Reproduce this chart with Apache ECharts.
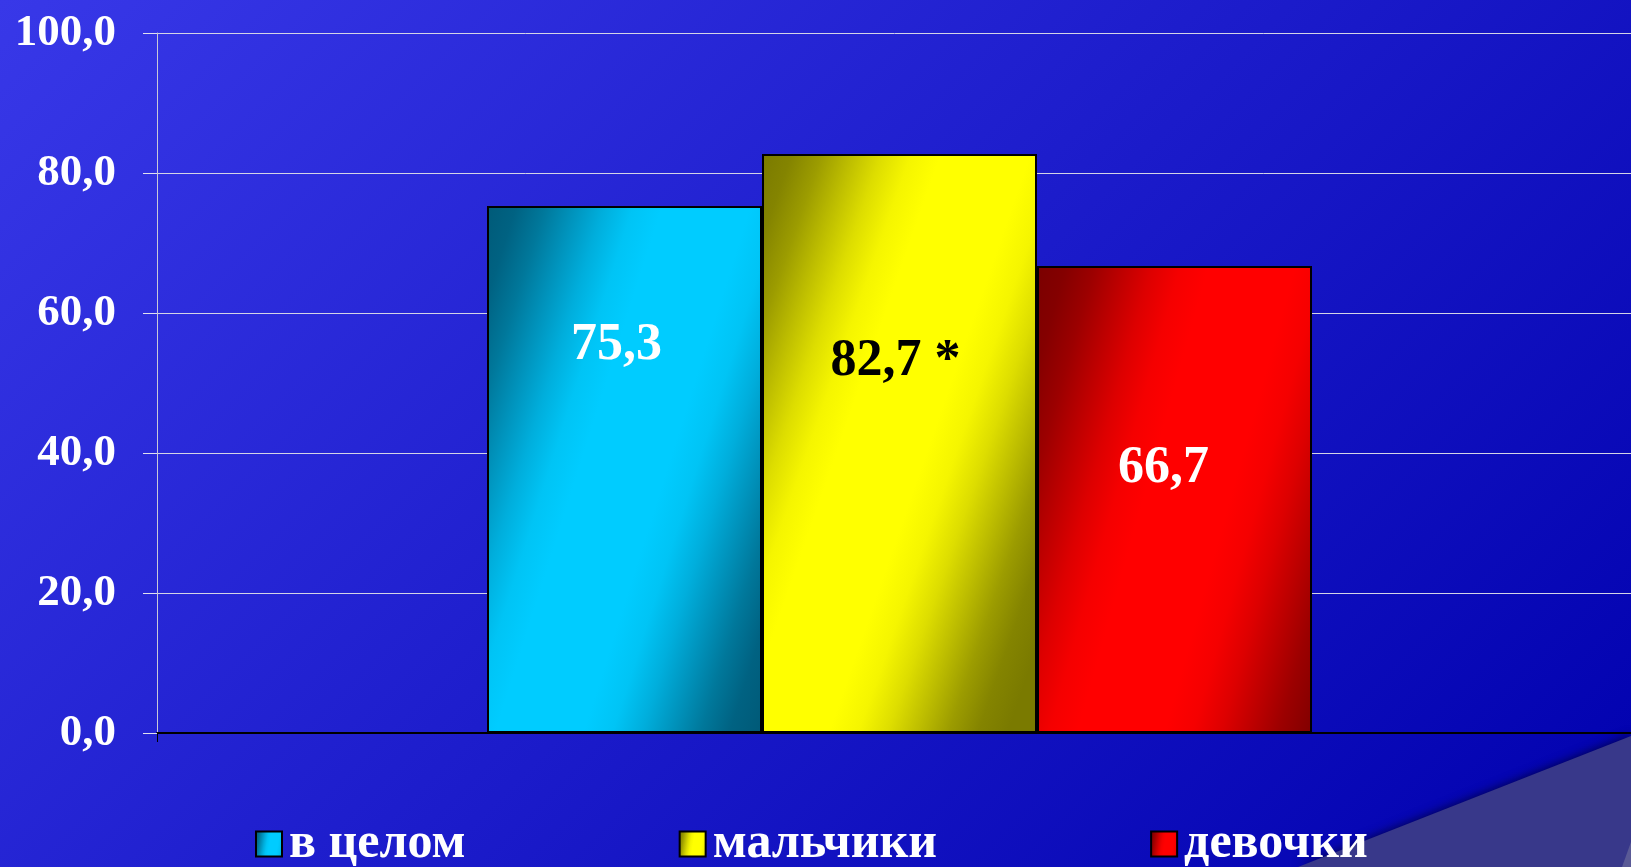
<!DOCTYPE html>
<html>
<head>
<meta charset="utf-8">
<script src="https://cdn.jsdelivr.net/npm/echarts@6/dist/echarts.min.js"></script>
<style>
html,body{margin:0;padding:0;overflow:hidden;}
#chart{width:1631px;height:867px;}
</style>
</head>
<body>
<div id="chart"></div>
<script>
// ---- data ----
const categories = [''];
const seriesNames = ['в целом', 'мальчики', 'девочки'];
const overallValues = [75.3];
const boysValues = [82.7];
const girlsValues = [66.7];
const yMin = 0, yMax = 100, yInterval = 20;

const fmt = v => v.toFixed(1).replace('.', ',');

function mix(a, b, t) {
  const pa = [1, 3, 5].map(i => parseInt(a.substr(i, 2), 16));
  const pb = [1, 3, 5].map(i => parseInt(b.substr(i, 2), 16));
  return 'rgb(' + pa.map((v, i) => Math.round(v + (pb[i] - v) * t)).join(',') + ')';
}

function barGradient(dark, bright) {
  // smooth (eased) transitions dark -> bright -> dark
  const stops = [];
  const seg = (s, e, from, to) => {
    for (let k = 0; k <= 6; k++) {
      const u = k / 6;
      const eased = u * u * (3 - 2 * u);
      stops.push({ offset: s + (e - s) * u, color: from === 'd' ? mix(dark, bright, eased) : mix(bright, dark, eased) });
    }
  };
  seg(0, 0.4, 'd');
  seg(0.6, 1, 'b');
  return new echarts.graphic.LinearGradient(0, 0, 1.45, 0.24, stops);
}

const serif = 'Liberation Serif';

function makeSeries(name, data, dark, bright, labelColor, labelY, labelDx, suffix) {
  return {
    name: name,
    type: 'bar',
    data: data,
    barWidth: 275,
    barGap: '0%',
    itemStyle: {
      color: barGradient(dark, bright),
      borderColor: '#000',
      borderWidth: 2
    },
    label: {
      show: true,
      position: ['50%', labelY],
      offset: [labelDx, 0],
      align: 'center',
      verticalAlign: 'middle',
      fontFamily: serif,
      fontWeight: 'bold',
      fontSize: 52,
      color: labelColor,
      formatter: p => fmt(p.value) + suffix
    }
  };
}

const chart = echarts.init(document.getElementById('chart'), null, { renderer: 'canvas' });
chart.setOption({
  animation: false,
  backgroundColor: {
    type: 'linear', global: true,
    x: 0, y: 0, x2: 1249, y2: 1249,
    colorStops: [
      { offset: 0, color: '#3838e8' },
      { offset: 1, color: '#0000ae' }
    ]
  },
  graphic: [
    {
      type: 'polygon',
      z: -1,
      shape: { points: [[1298, 867], [1631, 736], [1631, 867]] },
      style: { fill: '#38388a', shadowColor: 'rgba(0,0,40,0.6)', shadowBlur: 8, shadowOffsetY: -2 }
    },
    {
      type: 'polygon',
      z: -1,
      shape: { points: [[1622, 867], [1631, 842], [1631, 867]] },
      style: { fill: '#5a5a96' }
    }
  ],
  grid: { left: 157, top: 33, bottom: 134, width: 1485, outerBoundsMode: 'none' },
  legend: {
    left: 250,
    top: 814,
    icon: 'rect',
    itemWidth: 26,
    itemHeight: 25,
    itemGap: 213,
    data: seriesNames,
    itemStyle: { borderColor: '#000', borderWidth: 2 },
    textStyle: {
      color: '#fff',
      fontFamily: serif,
      fontWeight: 'bold',
      fontSize: 50,
      padding: [8, 0, 0, 2]
    }
  },
  xAxis: {
    type: 'category',
    data: categories,
    axisLine: { show: true, lineStyle: { color: '#000', width: 2 } },
    axisTick: { show: true, length: 9, lineStyle: { color: '#000', width: 1 } },
    axisLabel: { show: false },
    splitLine: { show: false }
  },
  yAxis: {
    type: 'value',
    min: yMin,
    max: yMax,
    interval: yInterval,
    axisLine: { show: true, lineStyle: { color: '#c8c8d8', width: 1 } },
    axisTick: { show: true, length: 14, lineStyle: { color: '#e0e0ee', width: 1 } },
    splitLine: { show: true, lineStyle: { color: '#d4d4e6', width: 1 } },
    axisLabel: {
      color: '#fff',
      fontFamily: serif,
      fontWeight: 'bold',
      fontSize: 45,
      margin: 41,
      formatter: v => fmt(v)
    }
  },
  series: [
    makeSeries(seriesNames[0], overallValues, '#005a78', '#00ccff', '#fff', 140, -8, ''),
    makeSeries(seriesNames[1], boysValues, '#7a7a00', '#ffff00', '#000', 207, -4, ' *'),
    makeSeries(seriesNames[2], girlsValues, '#7a0000', '#ff0000', '#fff', 202, -11, '')
  ]
});
</script>
</body>
</html>
